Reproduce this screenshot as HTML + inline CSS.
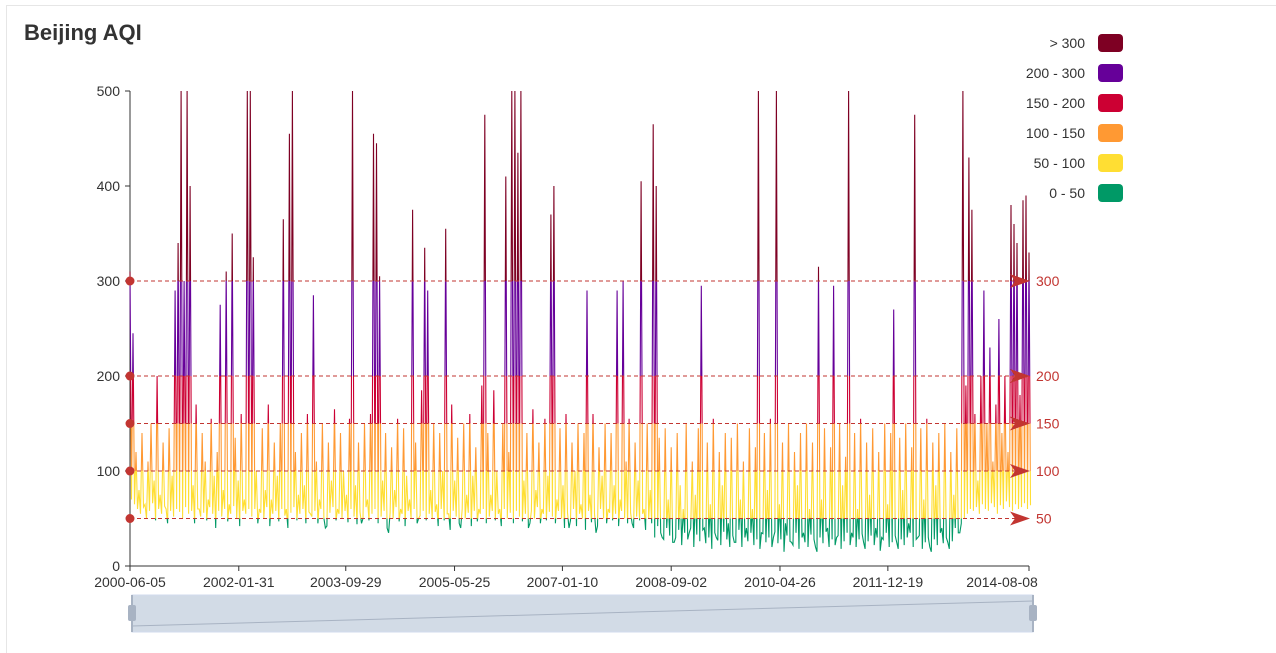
<!DOCTYPE html>
<html><head><meta charset="utf-8">
<style>
html,body{margin:0;padding:0;background:#fff;width:1276px;height:652px;overflow:hidden;font-family:"Liberation Sans",sans-serif;}
#frame{position:absolute;left:6px;top:5px;width:1270px;height:647px;border-left:1px solid #e6e6e6;border-top:1px solid #e6e6e6;}
</style></head><body>
<div id="frame"></div>
<svg id="chart" width="1276" height="652" style="position:absolute;left:0;top:0">
<defs>
<linearGradient id="aqiGrad" gradientUnits="userSpaceOnUse" x1="0" y1="566" x2="0" y2="91">
<stop offset="0" stop-color="#009966"/><stop offset="0.1" stop-color="#009966"/>
<stop offset="0.1" stop-color="#ffde33"/><stop offset="0.2" stop-color="#ffde33"/>
<stop offset="0.2" stop-color="#ff9933"/><stop offset="0.3" stop-color="#ff9933"/>
<stop offset="0.3" stop-color="#cc0033"/><stop offset="0.4" stop-color="#cc0033"/>
<stop offset="0.4" stop-color="#660099"/><stop offset="0.6" stop-color="#660099"/>
<stop offset="0.6" stop-color="#7e0023"/><stop offset="1" stop-color="#7e0023"/>
</linearGradient>
</defs>
<text x="24" y="40" font-size="22" font-weight="bold" fill="#333">Beijing AQI</text>
</svg>
<script>
const values = [
310,245,120,80,140,65,110,150,90,200,75,130,60,145,95,290,340,500,300,500,
400,85,170,60,140,110,70,155,95,120,275,80,310,65,350,135,90,160,70,500,
500,325,100,60,145,80,170,70,130,95,150,365,60,455,500,120,75,140,85,160,
55,285,110,70,150,40,130,90,165,60,140,100,75,155,500,85,130,45,150,70,
160,455,445,305,90,140,35,125,80,155,60,145,95,70,375,130,50,185,335,290,
80,150,65,140,100,355,55,170,90,135,40,150,75,160,95,125,60,190,475,140,
75,185,100,60,150,410,120,500,500,435,500,90,140,45,165,80,130,60,155,95,
370,400,70,145,85,160,40,130,100,150,65,140,290,75,160,35,125,95,150,60,
140,85,290,70,300,110,155,45,130,90,405,60,150,80,465,400,135,30,145,70,
125,25,140,85,60,150,35,110,75,145,295,40,130,65,155,30,120,85,140,45,
135,25,150,70,110,40,145,60,125,500,35,140,80,155,30,500,65,130,45,150,
25,120,85,140,35,150,60,130,20,315,70,145,40,125,295,30,150,85,115,500,
35,140,60,155,25,130,75,145,40,120,30,150,65,140,270,25,135,80,150,45,
125,475,30,145,70,155,20,130,85,140,40,150,25,120,75,145,35,500,190,430,
375,160,90,200,290,150,230,110,170,260,140,200,120,380,360,340,180,385,390,330];
const lows = [
70,65,60,55,62,50,58,66,48,60,55,63,45,58,52,60,57,50,62,55,
58,45,60,52,56,48,62,55,40,58,52,60,47,55,63,50,42,58,55,60,
52,60,45,56,50,62,42,55,58,47,60,53,40,56,62,48,55,60,45,57,
52,58,45,60,50,42,56,62,48,55,50,58,46,60,52,44,57,50,62,48,
55,60,45,52,58,40,56,50,62,47,55,42,58,50,60,45,53,58,48,55,
50,57,42,60,48,55,38,58,52,45,60,50,56,42,58,47,55,60,45,52,
58,48,55,42,60,50,56,45,58,52,47,55,40,58,50,62,45,55,48,57,
52,45,58,50,40,56,48,60,42,55,50,38,58,46,55,42,60,50,45,56,
48,55,42,58,50,45,56,40,52,48,55,38,50,45,30,42,35,28,40,32,
25,30,38,22,35,28,40,20,33,26,38,24,30,18,35,27,22,36,28,20,
32,25,38,20,30,26,35,22,28,18,34,25,30,20,36,24,28,15,32,26,
22,35,18,30,25,20,33,28,15,30,24,36,20,28,22,32,18,26,35,22,
30,20,28,34,18,26,32,22,30,16,28,35,20,25,32,18,28,22,30,35,
20,28,32,18,25,30,15,28,22,35,24,30,18,26,40,35,45,50,55,60,
58,62,55,65,60,58,66,62,55,64,60,68,62,58,65,60,62,66,60,64];
const xLabels = ["2000-06-05","2002-01-31","2003-09-29","2005-05-25","2007-01-10","2008-09-02","2010-04-26","2011-12-19","2014-08-08"];
const xLabelFrac = [0,0.121,0.24,0.361,0.481,0.602,0.723,0.843,1];
const yTicks = [0,100,200,300,400,500];
const markValues = [50,100,150,200,300];
const legendLabels = ["> 300","200 - 300","150 - 200","100 - 150","50 - 100","0 - 50"];
const legendColors = ["#7e0023","#660099","#cc0033","#ff9933","#ffde33","#009966"];

const X0=130,X1=1029,Y0=566,Y1=91;
const yScale=v=>Y0-(v/500)*(Y0-Y1);
const step=(X1-X0)/(values.length-1);
const xScale=i=>X0+i*step;
const svg=document.getElementById('chart');
const NS='http://www.w3.org/2000/svg';
function mk(tag,attrs){const e=document.createElementNS(NS,tag);for(const k in attrs)e.setAttribute(k,attrs[k]);svg.appendChild(e);return e;}

yTicks.forEach(v=>{
  const t=mk('text',{x:120,y:yScale(v)+5,'text-anchor':'end','font-size':14,fill:'#333'});
  t.textContent=v;
  
  
  mk('line',{x1:125,x2:130,y1:yScale(v),y2:yScale(v),stroke:'#333'});
});
mk('line',{x1:130,x2:130,y1:Y1,y2:Y0,stroke:'#333'});
mk('line',{x1:X0,x2:X1,y1:Y0,y2:Y0,stroke:'#333'});
xLabels.forEach((l,i)=>{
  const x=X0+xLabelFrac[i]*(X1-X0);
  mk('line',{x1:x,x2:x,y1:Y0,y2:Y0+5,stroke:'#333'});
  const t=mk('text',{x:i===xLabels.length-1?x-27:x,y:587,'text-anchor':'middle','font-size':14,fill:'#333'});
  t.textContent=l;
  
  
});

const ptsArr=[];
values.forEach((v,i)=>{
  ptsArr.push(xScale(i).toFixed(1)+','+yScale(v).toFixed(1));
  ptsArr.push((xScale(i)+step/2).toFixed(1)+','+yScale(lows[i]).toFixed(1));
});
const line=mk('polyline',{points:ptsArr.join(' '),fill:'none',stroke:'url(#aqiGrad)','stroke-width':1.1});



markValues.forEach(v=>{
  const y=yScale(v);
  const l=mk('line',{x1:X0,x2:1022,y1:y,y2:y,stroke:'#c23531','stroke-dasharray':'4,3','stroke-width':1});
  
  
  mk('circle',{cx:X0,cy:y,r:4.5,fill:'#c23531'});
  mk('path',{d:`M1010 ${y-7} L1030 ${y} L1010 ${y+7} L1015 ${y} Z`,fill:'#c23531'});
  const t=mk('text',{x:1036,y:y+5,'font-size':14,fill:'#c23531'});
  t.textContent=v;
  
  
});

legendLabels.forEach((l,i)=>{
  const y=43+i*30;
  const g=document.createElementNS(NS,'g');
  
  
  svg.appendChild(g);
  const t=document.createElementNS(NS,'text');
  t.setAttribute('x',1085);t.setAttribute('y',y+5);t.setAttribute('text-anchor','end');
  t.setAttribute('font-size',14);t.setAttribute('fill','#333');t.textContent=l;g.appendChild(t);
  const r=document.createElementNS(NS,'rect');
  r.setAttribute('x',1098);r.setAttribute('y',y-9);r.setAttribute('width',25);r.setAttribute('height',18);
  r.setAttribute('rx',4);r.setAttribute('fill',legendColors[i]);g.appendChild(r);
});

const dz=mk('rect',{x:132,y:595,width:901,height:37,fill:'#d2dbe6',stroke:'#d2dbee'});


mk('path',{d:'M132 626 L1033 601',stroke:'#a8b3c3','stroke-width':1,fill:'none'});
mk('line',{x1:132,x2:132,y1:595,y2:632,stroke:'#a8b3c3','stroke-width':2});
mk('line',{x1:1033,x2:1033,y1:595,y2:632,stroke:'#a8b3c3','stroke-width':2});
[132,1033].forEach(x=>{
  const h=mk('rect',{x:x-4,y:605,width:8,height:16,rx:2,fill:'#a8b3c3'});
  
  
});
</script>
</body></html>
